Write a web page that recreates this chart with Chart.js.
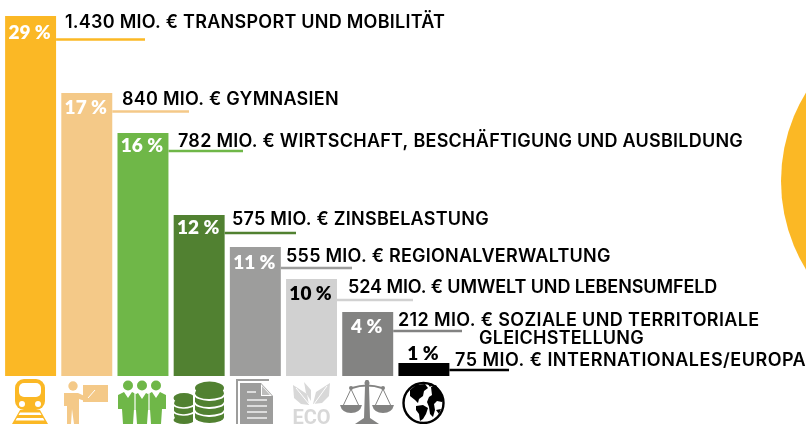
<!DOCTYPE html>
<html><head><meta charset="utf-8">
<style>html,body{margin:0;padding:0;background:#fff}#w{position:relative;width:806px;height:424px}</style>
<script src="https://cdn.jsdelivr.net/npm/chart.js@4"></script></head>
<body><div id="w"><canvas id="c" width="806" height="424"></canvas></div>
<script>
const categories=['Transport und Mobilität','Gymnasien','Wirtschaft, Beschäftigung und Ausbildung','Zinsbelastung','Regionalverwaltung','Umwelt und Lebensumfeld','Soziale und territoriale Gleichstellung','Internationales/Europa'];
const barHeights=[360,283,243,161,129,97,64,13];
const percentLabels=['29 %','17 %','16 %','12 %','11 %','10 %','4 %','1 %'];
const amountLabels=['1.430 MIO. € TRANSPORT UND MOBILITÄT','840 MIO. € GYMNASIEN','782 MIO. € WIRTSCHAFT, BESCHÄFTIGUNG UND AUSBILDUNG','575 MIO. € ZINSBELASTUNG','555 MIO. € REGIONALVERWALTUNG','524 MIO. € UMWELT UND LEBENSUMFELD','212 MIO. € SOZIALE UND TERRITORIALE','75 MIO. € INTERNATIONALES/EUROPA'];
const colors=['#fbb825','#f4c988','#6fb748','#518131','#9d9d9c','#d1d1d1','#838382','#000000'];
const pctColors=['#fff','#fff','#fff','#fff','#fff','#000','#fff','#000'];

const labelX=[65,122,178,232,286,348,398,455];
const labelY=[23,100,142,220,257,288,321,361];
const labelSpacing=[0.25,0.25,0.25,0.25,0.25,-0.1,0.36,0.47];
const lineY=[39.5,111.5,151,233,268,300,331,370];
const lineEnd=[145,189,243,296,352,413,462,509];
const pctY=[33,108,146,228,263,294,327,354];
const FONT='600 18px Inter, sans-serif';

function poly(x,pts,fill){x.fillStyle=fill;x.beginPath();pts.forEach((p,i)=>i?x.lineTo(p[0],p[1]):x.moveTo(p[0],p[1]));x.closePath();x.fill();}
function circ(x,a,b,r,fill){x.fillStyle=fill;x.beginPath();x.arc(a,b,r,0,7);x.fill();}
function rrect(x,a,b,w,h,r,fill){x.fillStyle=fill;x.beginPath();x.roundRect(a,b,w,h,r);x.fill();}
function ell(x,a,b,rx,ry,fill){x.fillStyle=fill;x.beginPath();x.ellipse(a,b,rx,ry,0,0,7);x.fill();}
function seg(x,a,b,c,d,w,col){x.strokeStyle=col;x.lineWidth=w;x.beginPath();x.moveTo(a,b);x.lineTo(c,d);x.stroke();}

const icons=[
 x=>{const c=colors[0];
  rrect(x,15,379,30,31,9,c);rrect(x,19,383,22,14,5,'#fff');
  circ(x,22,404,3,'#fff');circ(x,38,404,3,'#fff');
  poly(x,[[20,410],[40,410],[48,424],[12,424]],c);
  poly(x,[[20,412.5],[40,412.5],[41.5,415],[18.5,415]],'#fff');
  poly(x,[[17,418],[43,418],[44.5,420.5],[15.5,420.5]],'#fff');},
 x=>{const c=colors[1];
  circ(x,73,386,4.7,c);
  rrect(x,83,385,25,17,0,c);
  poly(x,[[64,393],[78,393],[89,398],[88,402],[79,399],[79,424],[74,424],[72,409],[71,424],[67,424],[67,406],[64,406]],c);
  seg(x,88,398,95,390,1,'#fff');},
 x=>{const c=colors[2];
  [128,142,156].forEach(a=>circ(x,a,385.5,5,c));
  [[128,0],[156,0],[142,1]].forEach(([a,d])=>{
   poly(x,[[a-10,395+d],[a-4,392+d],[a,398+d],[a+4,392+d],[a+10,395+d],[a+10,409+d],[a+6,409+d],[a+5,424],[a-5,424],[a-6,409+d],[a-10,409+d]],c);});
  seg(x,135,392,135,412,1.2,'#fff');seg(x,149,392,149,412,1.2,'#fff');},
 x=>{const c=colors[3];
  const g='#fff';
  rrect(x,174,398,22,23,6,c);ell(x,184,398,10.5,5,c);ell(x,184,420,10.5,4,c);
  [405,412].forEach(y=>{x.strokeStyle=g;x.lineWidth=1.6;x.beginPath();x.ellipse(184,y-2,11,5,0,.1,Math.PI-.1);x.stroke();});
  x.fillStyle=g;x.fillRect(193,387,30,37);
  rrect(x,195,388,29,33,6,c);ell(x,209.5,388,14.5,6.5,c);ell(x,209.5,417,14.5,6,c);
  [394,402,410].forEach(y=>{x.strokeStyle=g;x.lineWidth=1.8;x.beginPath();x.ellipse(209.5,y,15,6,0,.05,Math.PI-.05);x.stroke();});},
 x=>{const c=colors[4];
  poly(x,[[236,379],[269,379],[269,381],[238,381],[238,424],[236,424]],c);
  poly(x,[[240,383],[261,383],[273,396],[273,424],[240,424]],c);
  poly(x,[[261,384],[272,396],[261,396]],'#fff');
  poly(x,[[262,386],[270,395],[262,395]],'#bdbdbc');
  seg(x,247,392,256,392,1.3,'#fff');
  [400,406,412,418].forEach(y=>seg(x,247,y,267,y,1.3,'#fff'));},
 x=>{const c='#d8d8d8';
  poly(x,[[293,385],[307,394],[309,405],[301,404],[294,398]],c);
  poly(x,[[330,383],[316,392],[313,404],[322,403],[329,396]],c);
  poly(x,[[304,382],[311,390],[311,401],[306,393]],c);
  seg(x,296,388,309,404,1,'#fff');seg(x,327,386,314,404,1,'#fff');
  x.fillStyle=c;x.font='700 20px "Liberation Sans Narrow", Roboto, sans-serif';x.textAlign='center';x.textBaseline='alphabetic';
  x.fillText('ECO',311.5,423.5);},
 x=>{const c=colors[6];
  circ(x,367,383,2.5,c);
  poly(x,[[365.5,380],[368.5,380],[369,387],[365,387]],c);
  x.strokeStyle=c;x.lineWidth=2;x.beginPath();x.moveTo(352,388);x.quadraticCurveTo(367,383,382,388);x.stroke();
  poly(x,[[365,387],[369,387],[370,418],[364,418]],c);
  poly(x,[[364,418],[370,418],[379,424],[355,424]],c);
  [351,383].forEach(a=>{
   circ(x,a,388,2,c);
   x.strokeStyle=c;x.lineWidth=1;x.beginPath();x.moveTo(a-8,406);x.lineTo(a,389);x.lineTo(a+8,406);x.stroke();
   x.fillStyle=c;x.beginPath();x.moveTo(a-11,405);x.lineTo(a+11,405);x.quadraticCurveTo(a+9,413,a,413);x.quadraticCurveTo(a-9,413,a-11,405);x.fill();});},
 x=>{const k='#000';
  x.strokeStyle=k;x.lineWidth=2.4;x.beginPath();x.arc(423.5,403,20,0,7);x.stroke();
  poly(x,[[410,390],[416,385],[425,384],[428,388],[424,391],[423,396],[419,399],[418,403],[415,400],[410,396]],k);
  poly(x,[[416,406],[423,405],[428,408],[426,414],[423,419],[420,421],[419,414],[416,410]],k);
  poly(x,[[431,387],[436,385],[441,393],[443,399],[442,402],[437,401],[434,404],[435,410],[433,417],[430,414],[429,407],[427,402],[429,397],[432,395]],k);
  poly(x,[[427,383],[433,384],[430,387]],k);
  poly(x,[[436,410],[441,409],[439,414]],k);}
];

const overlay={id:'overlay',
 afterDatasetsDraw(ch){
  const x=ch.ctx,m=ch.getDatasetMeta(0).data;
  x.save();
  x.fillStyle='#fbb825';x.beginPath();x.arc(950,181,169,0,Math.PI*2);x.fill();
  m.forEach((b,i)=>{
    const r=b.x+b.width/2;
    x.strokeStyle=colors[i];x.lineWidth=2.5;x.beginPath();x.moveTo(r,lineY[i]);x.lineTo(lineEnd[i],lineY[i]);x.stroke();
    x.fillStyle='#000';x.font=FONT;x.letterSpacing=labelSpacing[i]+'px';x.textAlign='left';x.textBaseline='middle';
    x.fillText(amountLabels[i],labelX[i],labelY[i]);
    x.letterSpacing='0px';x.font='800 19px Lato, sans-serif';x.textAlign='center';
    x.fillStyle=pctColors[i];
    x.fillText(percentLabels[i],b.x-1,pctY[i]);
  });
  x.font=FONT;x.letterSpacing='0.25px';x.textAlign='left';x.fillStyle='#000';
  x.fillText('GLEICHSTELLUNG',479,339);
  x.letterSpacing='0px';
  icons.forEach(f=>f(x));
  x.restore();
 }};
new Chart(document.getElementById('c'),{type:'bar',
 data:{labels:categories,datasets:[{data:barHeights,backgroundColor:colors,borderWidth:0,barPercentage:0.907,categoryPercentage:1}]},
 options:{responsive:false,animation:false,
  layout:{padding:{left:2.5,right:354,top:0,bottom:48}},
  plugins:{legend:{display:false},tooltip:{enabled:false}},
  scales:{x:{display:false},y:{display:false,min:0,max:376}}},
 plugins:[overlay]});
</script></body></html>
